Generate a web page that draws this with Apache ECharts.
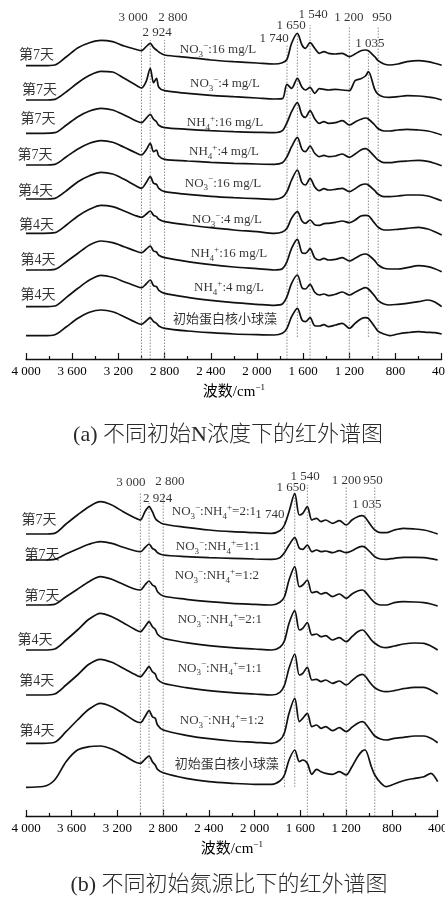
<!DOCTYPE html>
<html><head><meta charset="utf-8">
<script src="https://cdn.jsdelivr.net/npm/echarts@6/dist/echarts.min.js"></script>
<style>html,body{margin:0;padding:0;background:#fff}#c{width:445px;height:903px}</style>
</head><body><div id="c"></div>
<script>
// wavenumber grid (cm-1)
const W = [4000,3850,3750,3650,3550,3450,3350,3250,3150,3050,3000,2960,2924,2895,2870,2850,2800,2600,2400,2200,2000,1850,1780,1740,1700,1650,1610,1580,1540,1500,1460,1420,1380,1320,1260,1200,1150,1100,1060,1035,980,950,900,850,780,700,600,520,460,400];

// panel (a) stacked spectra (top to bottom)
const a1 = [293.3,293.3,294,302.3,311.3,316.3,318.7,317.3,313,309.7,308.3,312.3,315.7,311.3,309,307,304,301.7,299,297.3,296,295,296.3,299.7,315.7,325.7,314,310.7,316.3,310.7,305.7,307.3,305.7,305,305.7,302.3,305,308.3,309,308.3,302.3,298.3,295,294,295,297.3,298.3,297.3,295.7,293.7];
const a2 = [259,259,259.7,267.3,276.3,283.7,287.7,287,280.7,274,271,277.3,290.7,276.3,280.7,271.7,268.3,265.7,263.7,262.3,261,260,260.3,274.7,270.7,280.7,271.7,269,271.7,265.7,270.3,269.7,269,269.7,269,268.3,278.3,280.3,283,287.3,269.7,264.7,262,261.7,262.3,263.3,263,262,261,259];
const a3 = [225.7,225.7,226.3,234,242.3,248,250.7,249,244,238.3,236.3,240.7,244.7,239.7,237.3,233.7,231.3,229.7,228.3,227.3,226.7,226.3,228.3,236.3,247.3,256.3,244,241.7,248.3,240.3,235.7,237.3,235.7,236.3,238.3,234,237,239.7,241,240,234,230.3,228,228,229,229.7,229,228,226.3,224];
const a4 = [194,194,194.7,202.3,210,215.7,218.3,216.7,211.7,206.3,204,209,215.7,207.3,209,203,199.7,198,196.7,195.7,195,194.7,196.3,202.3,212.3,221.7,209.7,207.3,213,205.7,202.3,203.7,202.3,203,205,201.7,205,209,210.3,209,202.3,199,196.3,196.3,197.3,198,198.7,197.7,195.7,193.3];
const a5 = [160,160,160.7,168.3,177.3,183.3,186.7,185,179.7,173.3,170.7,176.3,182.3,175.7,174.7,170.7,167.3,164.7,162.7,161.3,160.3,159.7,161.7,167.3,179,189,176.3,174,180.7,172.3,168.3,170.3,169,169.7,170.7,167.3,170.3,174,175,174,168.3,164.7,162.3,162.3,163,164,164,163,160.7,158.3];
const a6 = [125.7,125.7,126.3,134,143,149.7,153.7,152.3,148,143.3,141.7,144.7,148,143.7,142.3,139.7,137.3,134,131.3,129,127.3,125.7,127,130.7,140.7,147.3,138,135.7,139,134.3,133.7,135.3,135.7,136.7,138,136.3,139,143,143.7,143.3,135.7,131.7,129,129,129.7,130.7,131.7,130,127.3,124];
const a7 = [89,89,89.7,97.3,105.7,114,118,116.3,112.3,108,106.3,109.7,113,108,107,103.7,101.3,97.3,94.3,92,90.3,89,90.3,97.3,110.7,119.7,106.3,105.7,110.3,101.3,99,100.7,99,99.7,101.3,98,100.7,104,105,104,98.3,94,90.7,90,90,91.3,93.3,92.3,90.3,87.3];
const a8 = [52.3,52.3,53,61.7,70.7,79,83.7,81.7,77.3,73,71.3,75,79,73.3,72.3,68.7,65.7,61.7,58.7,56.3,54.7,53.7,55,62.3,75.7,84,71.3,70,74.7,66.7,64,65,63.3,64.7,67,64,66.7,69.7,71.3,70,63,58.3,55,54,54.7,55.7,57.3,59,57,52.3];
const a9 = [23.3,23.3,24.3,32.3,40.7,46.7,49,47.3,42.3,36.7,34.7,38,41.3,37.3,35.7,33,30.7,28,26.3,25,24.3,24,25.7,30.7,42.3,50.7,39,37.3,41.3,33.3,33,34.3,32.3,34,35.7,30.7,35.7,40,41.3,40.7,32.3,27.7,25,23.3,25,26.3,27.3,26.7,26.3,25];

// panel (b) stacked spectra (top to bottom)
const b1 = [282,282,282.7,292,301,309.3,314.3,311,304.3,298.3,296,304.3,309.3,304.3,297.7,295.3,292,288.7,286,284.3,283.3,282.7,285.3,291,304.3,322.7,301,302.7,309.3,296,297.7,294.3,296,292.7,295.3,291,296,299.3,300.3,298.7,290,286,283.3,283.3,286,287.7,287,286,284.3,282];
const b2 = [256,256,256.7,262,267,271.7,274.3,272.7,268.7,265.3,264.3,268.3,272,267.7,266,263.3,261,259.3,258.3,257.7,257,256.7,258.3,263.3,271,278.3,267.7,266.7,271,264.3,266,264.3,265,263.3,265.3,263.3,265.3,268.3,269.7,268.7,262.7,259.3,257,256.7,257.7,258.7,258.7,258.3,257.3,256];
const b3 = [211,211,211.7,219.3,226.7,234.3,239.3,236.7,231.7,227,226,231,235,231,229.3,224.3,220,216.7,214.3,212.7,211.7,211,213.7,219.3,236,249.3,229.3,231,236,223.3,224.3,222,223.3,219.3,222,217.7,222,225,226,224.3,216.7,213.3,211,211,213.3,214.3,214,213.3,212,210];
const b4 = [166,166,167,176,186,196.7,202.7,199.3,193.3,186.7,184.3,189.3,194.3,189.3,186.7,181.7,177.7,173.3,170.3,168.3,167,166,168.7,175.3,192.7,205.3,186,187.7,193.3,181,182,179.3,180.3,176,178.3,174.3,179.3,184.3,186,184.3,176,172.7,169.3,168.3,170,172,173,172.7,170,166];
const b5 = [121,121,122,131,141,151.7,156.7,153.7,147.7,141.7,139.3,144.3,149.3,144.3,142,136.7,132.7,128.3,125.3,123.3,122,121,123.7,130.7,147.7,162,141,142.7,148.7,136,136.7,134.3,136,132.7,135,131,135.3,140,141.7,140,131.7,128.3,125.3,124.3,125.3,127.3,128.7,128.7,126,122];
const b6 = [72.7,72.7,73.7,84.3,96,106.7,112.7,109.3,102.7,95.3,93.3,99.3,105.3,99.3,97.7,91,86,80.7,77.3,75,73.7,72.7,76,83.3,102.7,117.7,94.3,97.7,102.7,89.3,91,87.7,89.3,85.3,88.3,84.3,88.7,92.7,94.3,92.7,84.3,80,77,76,77.7,78.7,80,80,77.7,73.3];
const b7 = [28.7,29.5,36,54.3,66,69.3,70,67,61,54.3,52.7,56.7,60,54.3,51,46.7,43.3,37.7,34.3,32.7,31.7,31.7,35,41,56,66,54.3,56,52.7,41.7,46.7,44.3,42.7,41.7,44.3,41,49.3,59.3,65,66,49.3,41,33.3,29.3,32,35.3,37.7,39.3,42.7,34.3];

// labels
const dayLabelsA = ['第7天','第7天','第7天','第7天','第4天','第4天','第4天','第4天'];
const condLabelsA = ['NO₃⁻:16 mg/L','NO₃⁻:4 mg/L','NH₄⁺:16 mg/L','NH₄⁺:4 mg/L','NO₃⁻:16 mg/L','NO₃⁻:4 mg/L','NH₄⁺:16 mg/L','NH₄⁺:4 mg/L','初始蛋白核小球藻'];
const dayLabelsB = ['第7天','第7天','第7天','第4天','第4天','第4天'];
const condLabelsB = ['NO₃⁻:NH₄⁺=2:1','NO₃⁻:NH₄⁺=1:1','NO₃⁻:NH₄⁺=1:2','NO₃⁻:NH₄⁺=2:1','NO₃⁻:NH₄⁺=1:1','NO₃⁻:NH₄⁺=1:2','初始蛋白核小球藻'];
const peakLabels = ['3 000','2 800','2 924','1 740','1 650','1 540','1 200','950','1 035'];
const peakLines = [3000,2924,2800,1740,1650,1540,1200,1035,950];
const xTitle = '波数/cm⁻¹';
const captionA = '(a) 不同初始N浓度下的红外谱图';
const captionB = '(b) 不同初始氮源比下的红外谱图';

// label anchor positions (data coords: wavenumber, height)
const dayPosA = [[3909,304],[3883,268.3],[3896,239.7],[3922,204],[3918,167.3],[3909,134],[3896,99],[3896,64]];
const condPosA = [[2337,309],[2277,275],[2277,236.3],[2285,207.3],[2294,175.7],[2259,139],[2242,105],[2242,71.3],[2277,39.7]];
const peakPosA = [[3073,341],[2727,341],[2865,326],[1852,320],[1705,333],[1514,344],[1203,341],[917,341],[1021,315]];
const lineTopA = [319,319,319,314,325,334,332,307,332];
const lineBotA = [0,0,0,0,22,0,0,22,0];
const dayPosB = [[3886,296],[3860,261],[3860,219.3],[3921,175.3],[3906,134.3],[3904,84.3]];
const condPosB = [[2357,304.3],[2322,269.3],[2331,240],[2305,196],[2305,147.7],[2287,95.3],[2244,51]];
const peakPosB = [[3082,333.5],[2742,334],[2849,317.7],[1868,301],[1682,328.3],[1559,339.3],[1198,335.3],[965,335.3],[1020,311]];
const lineTopB = [323,313,323,296,321,331,329,304,329];
const lineBotB = [0,48,0,29,29,0,0,66,0];

const SERIF = "'Liberation Serif','Noto Sans CJK SC',serif";
const subMap = {'₀':'0','₁':'1','₂':'2','₃':'3','₄':'4','₅':'5','₆':'6','₇':'7','₈':'8','₉':'9'};
const supMap = {'⁻':'−','⁺':'+','¹':'1','²':'2','³':'3'};
function toRich(s){
  let out='', cur='', st='n';
  for (const ch of s){
    let ns='n', c=ch;
    if (subMap[ch]!==undefined){ns='sub';c=subMap[ch];}
    else if (supMap[ch]!==undefined){ns='sup';c=supMap[ch];}
    if (ns!==st && cur){out+='{'+st+'|'+cur+'}';cur='';}
    st=ns; cur+=c;
  }
  if (cur) out+='{'+st+'|'+cur+'}';
  return out;
}
const richStyles = (fs) => ({
  n:{fontFamily:SERIF,fontSize:fs,color:'#000',lineHeight:18,verticalAlign:'middle'},
  sub:{fontFamily:SERIF,fontSize:9,color:'#000',lineHeight:8,verticalAlign:'bottom'},
  sup:{fontFamily:SERIF,fontSize:9,color:'#000',lineHeight:10,verticalAlign:'top'}
});

const panelA = [a1,a2,a3,a4,a5,a6,a7,a8,a9];
const panelB = [b1,b2,b3,b4,b5,b6,b7];

function fmtTick(v){
  if (v>=1000){const k=Math.floor(v/1000);const r=String(v%1000).padStart(3,'0');return k+' '+r;}
  return String(v);
}

const series = [];
function addPanel(idx, spectra, lineTop, lineBot, dayLabels, dayPos, condLabels, condPos, peakPos){
  peakLines.forEach((w,i)=>{
    series.push({type:'line',xAxisIndex:idx,yAxisIndex:idx,data:[[w,lineBot[i]],[w,lineTop[i]]],
      showSymbol:false,silent:true,z:1,lineStyle:{color:'#8c8c8c',width:1,type:[1.5,1.5]}});
  });
  spectra.forEach(arr=>{
    series.push({type:'line',xAxisIndex:idx,yAxisIndex:idx,data:W.map((w,i)=>[w,arr[i]]),
      showSymbol:false,smooth:0.3,silent:true,z:3,lineStyle:{color:'#111',width:1.7}});
  });
  const labelSeries = (labels,pos,fs)=>({type:'scatter',xAxisIndex:idx,yAxisIndex:idx,symbolSize:0,silent:true,z:5,clip:false,
    data:labels.map((t,i)=>[pos[i][0],pos[i][1],t]),
    label:{show:true,position:'inside',align:'center',verticalAlign:'middle',
      formatter:p=>toRich(p.data[2]),rich:richStyles(fs)}});
  series.push(labelSeries(dayLabels,dayPos,14));
  series.push(labelSeries(condLabels,condPos,13));
  series.push(labelSeries(peakLabels,peakPos,13));
}
addPanel(0,panelA,lineTopA,lineBotA,dayLabelsA,dayPosA,condLabelsA,condPosA,peakPosA);
addPanel(1,panelB,lineTopB,lineBotB,dayLabelsB,dayPosB,condLabelsB,condPosB,peakPosB);

const xAxisBase = (g)=>({type:'value',gridIndex:g,min:400,max:4000,interval:400,inverse:true,
  axisLine:{show:true,lineStyle:{color:'#111',width:1.3}},
  axisTick:{show:true,inside:true,length:6,lineStyle:{color:'#111',width:1.2}},
  minorTick:{show:true,splitNumber:2,length:3,lineStyle:{color:'#111',width:1.2}},
  splitLine:{show:false},minorSplitLine:{show:false},
  axisLabel:{formatter:fmtTick,fontFamily:SERIF,fontSize:13,color:'#000',margin:6,showMinLabel:true,showMaxLabel:true,hideOverlap:false},
  name:toRich(xTitle),nameLocation:'middle',nameGap:24,
  nameTextStyle:{rich:{n:{fontFamily:SERIF,fontSize:15,color:'#000',lineHeight:18,verticalAlign:'middle'},
    sup:{fontFamily:SERIF,fontSize:9,color:'#000',lineHeight:10,verticalAlign:'top'}}}
});

const chart = echarts.init(document.getElementById('c'),null,{renderer:'canvas'});
chart.setOption({
  backgroundColor:'#fff',
  animation:false,
  grid:[{left:26,right:3.3,top:0,height:359,containLabel:false,outerBoundsMode:'none'},
        {left:26,right:7.3,top:457,height:359,containLabel:false,outerBoundsMode:'none'}],
  xAxis:[xAxisBase(0),xAxisBase(1)],
  yAxis:[{type:'value',gridIndex:0,min:0,max:359,show:false},{type:'value',gridIndex:1,min:0,max:359,show:false}],
  series:series,
  graphic:[
    {type:'text',x:228,y:435,style:{text:captionA,fontFamily:SERIF,fontSize:22,fontWeight:300,fill:'#2a2a2a',align:'center',verticalAlign:'middle'}},
    {type:'text',x:229,y:885,style:{text:captionB,fontFamily:SERIF,fontSize:22,fontWeight:300,fill:'#2a2a2a',align:'center',verticalAlign:'middle'}}
  ]
});
</script></body></html>
